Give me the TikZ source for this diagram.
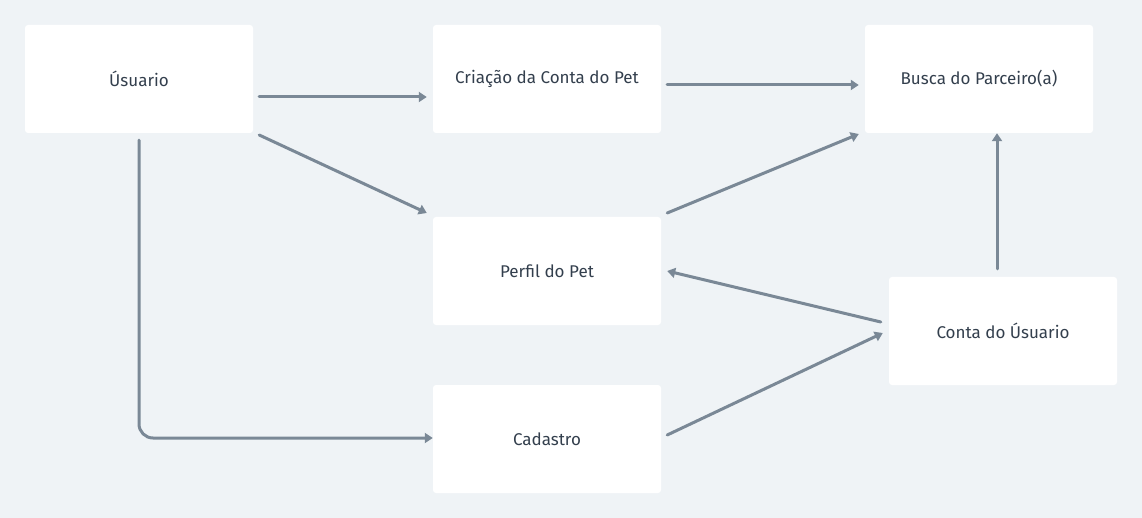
\documentclass[tikz,border=0pt]{standalone}
\usepackage{fontspec}
\setmainfont{Fira Sans}
\usetikzlibrary{arrows.meta,calc}
\definecolor{bgc}{HTML}{EFF3F6}
\definecolor{linec}{HTML}{7A8896}
\definecolor{textc}{HTML}{333F4D}
\begin{document}
\begin{tikzpicture}[x=1pt,y=-1pt,
  box/.style={rectangle,fill=white,rounded corners=3pt,minimum width=228pt,minimum height=108pt,inner sep=0pt,text=textc,font=\fontsize{17}{20}\selectfont},
  conn/.style={draw=linec,line width=3pt,line cap=round,-{Triangle[length=8pt,width=10pt]}}]
\fill[bgc] (0,0) rectangle (1142,518);
\useasboundingbox (0,0) rectangle (1142,518);
\node[box] (u) at (139,79) {Úsuario};
\node[box] (c) at (547,79) {Criação da Conta do Pet};
\node[box] (b) at (979,79) {Busca do Parceiro(a)};
\node[box] (p) at (547,271) {Perfil do Pet};
\node[box] (k) at (1003,331) {Conta do Úsuario};
\node[box] (d) at (547,439) {Cadastro};
\draw[conn] ($(u.east)+(6,18)$) -- ($(c.west)+(-6,18)$);
\draw[conn] ($(u.east)+(6,56)$) -- ($(p.west)+(-6,-58)$);
\draw[conn,rounded corners=14pt] ($(u.south)+(0,7)$) |- ($(d.west)+(0,-1)$);
\draw[conn] ($(c.east)+(6,6)$) -- ($(b.west)+(-6,6)$);
\draw[conn] ($(p.east)+(6,-58)$) -- ($(b.west)+(-6,55)$);
\draw[conn] ($(k.west)+(-8,-9)$) -- ($(p.east)+(6,0)$);
\draw[conn] ($(d.east)+(6,-4)$) -- ($(k.west)+(-6,2)$);
\draw[conn] ($(k.north)+(-6,-8)$) -- ($(b.south)+(18,0)$);
\end{tikzpicture}
\end{document}
